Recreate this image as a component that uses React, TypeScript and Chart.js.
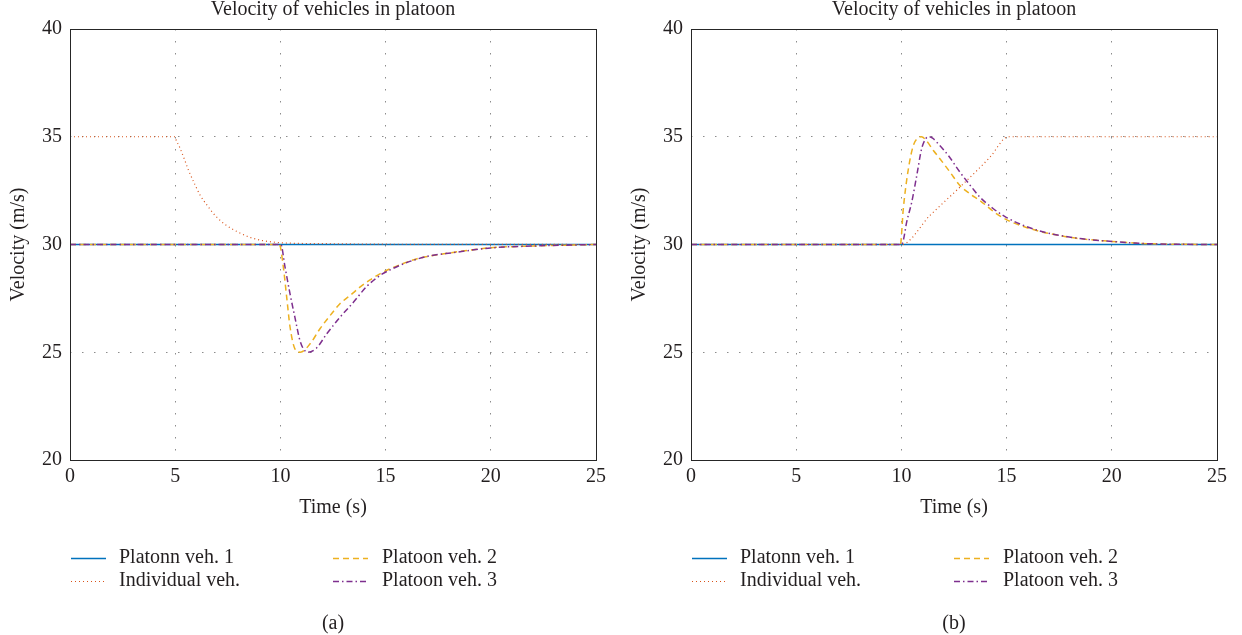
import React, { useEffect, useRef } from "react";
import { Chart, registerables } from "chart.js";

Chart.register(...registerables);

const FONT = "'Liberation Serif', 'Times New Roman', serif";
const FS = 20;
const TITLE = "Velocity of vehicles in platoon";
const X_TITLE = "Time (s)";
const Y_TITLE = "Velocity (m/s)";
const SERIES_NAMES = ["Platonn veh. 1", "Individual veh.", "Platoon veh. 2", "Platoon veh. 3"];
const X_MIN = 0, X_MAX = 25, X_STEP = 5;
const Y_MIN = 20, Y_MAX = 40, Y_STEP = 5;

// ---- Panel (a) ----
const tA_veh1 = [0, 25];
const vA_veh1 = [30, 30];

const tA_ind = [0, 5, 5.04, 5.18, 5.42, 5.64, 5.89, 6.18, 6.53, 6.94, 7.41, 7.94, 8.56, 9.16, 9.79, 10.5, 12, 14, 16, 25];
const vA_ind = [35, 35, 34.86, 34.58, 34.0, 33.43, 32.88, 32.3, 31.8, 31.3, 30.9, 30.6, 30.33, 30.18, 30.1, 30.06, 30.04, 30.02, 30.01, 30];

const tA_veh2 = [0, 9.95, 10.14, 10.3, 10.46, 10.69, 10.95, 11.41, 11.88, 12.36, 12.83, 13.31, 13.78, 14.26, 14.73, 15.21, 16.0, 16.5, 18.2, 20.0, 22.0, 25];
const vA_veh2 = [30, 30, 28.95, 27.55, 26.16, 25.16, 25.0, 25.39, 26.09, 26.7, 27.25, 27.63, 28.02, 28.36, 28.64, 28.87, 29.18, 29.34, 29.63, 29.85, 29.93, 30];

const tA_veh3 = [0, 10.02, 10.22, 10.46, 10.69, 10.93, 11.1, 11.3, 11.72, 12.2, 12.83, 13.47, 14.1, 14.73, 15.21, 16.0, 17.0, 18.2, 20.0, 22.0, 25];
const vA_veh3 = [30, 30, 28.95, 27.7, 26.62, 25.54, 25.15, 25.0, 25.2, 25.85, 26.62, 27.32, 28.05, 28.56, 28.82, 29.16, 29.45, 29.62, 29.84, 29.93, 30];

// ---- Panel (b) ----
const tB_veh1 = [0, 25];
const vB_veh1 = [30, 30];

const tB_ind = [0, 10, 11.36, 12.78, 14.21, 15.08, 25];
const vB_ind = [30, 30, 31.35, 32.66, 34.05, 35, 35];

const tB_veh2 = [0, 9.95, 10.09, 10.33, 10.57, 10.8, 10.95, 11.2, 11.52, 11.83, 12.31, 12.78, 13.26, 13.73, 14.53, 15.08, 16.43, 18.17, 19.9, 21.96, 25];
const vB_veh2 = [30, 30, 31.66, 33.5, 34.6, 34.95, 35.0, 34.8, 34.36, 33.98, 33.36, 32.74, 32.35, 32.04, 31.42, 31.11, 30.65, 30.31, 30.15, 30.03, 30];

const tB_veh3 = [0, 10.0, 10.09, 10.25, 10.49, 10.73, 10.96, 11.15, 11.3, 11.5, 11.68, 12.23, 12.78, 13.34, 13.73, 14.37, 15.0, 16.43, 18.17, 19.9, 21.96, 25];
const vB_veh3 = [30, 30, 30.19, 31.04, 31.96, 33.2, 34.44, 34.9, 35.0, 34.92, 34.75, 34.13, 33.36, 32.66, 32.2, 31.66, 31.25, 30.67, 30.32, 30.15, 30.03, 30];

const COLORS = ["#0072BD", "#D95319", "#EDB120", "#7E2F8E"];
const DASHES: number[][] = [[], [1, 3], [6, 4], [6, 3, 1.5, 3]];
const WIDTHS = [1.5, 1.2, 1.5, 1.5];
const ORDERS = [3, 2, 1, 0];

const toPts = (t: number[], v: number[]) => t.map((x, i) => ({ x, y: v[i] }));

const decorPlugin = {
  id: "decor",
  afterDraw(chart: any, _args: any, opts: any) {
    const { ctx, chartArea: a } = chart;
    ctx.save();
    // box
    ctx.setLineDash([]);
    ctx.strokeStyle = "#262626";
    ctx.lineWidth = 1;
    ctx.strokeRect(Math.round(a.left) + 0.5, Math.round(a.top) + 0.5, Math.round(a.right - a.left), Math.round(a.bottom - a.top));
    // title
    ctx.fillStyle = "#231f20";
    ctx.font = `${FS}px ${FONT}`;
    ctx.textAlign = "center";
    ctx.textBaseline = "middle";
    ctx.fillText(opts.title, (a.left + a.right) / 2, a.top - 19);
    // legend (two columns)
    const ds = chart.data.datasets;
    const cols = [
      { s: a.left + 1, e: a.left + 36, tx: a.left + 49 },
      { s: a.left + 263, e: a.left + 298, tx: a.left + 312 },
    ];
    const rows = [a.bottom + 98, a.bottom + 121];
    ds.forEach((d: any, i: number) => {
      const c = cols[Math.floor(i / 2)];
      const y = Math.round(rows[i % 2]) + 0.5;
      ctx.save();
      ctx.strokeStyle = d.borderColor;
      ctx.lineWidth = d.borderWidth;
      ctx.setLineDash(d.borderDash || []);
      ctx.beginPath();
      ctx.moveTo(c.s, y);
      ctx.lineTo(c.e, y);
      ctx.stroke();
      ctx.restore();
      ctx.fillStyle = "#231f20";
      ctx.font = `${FS}px ${FONT}`;
      ctx.textAlign = "left";
      ctx.textBaseline = "middle";
      ctx.fillText(d.label, c.tx, rows[i % 2]);
    });
    // caption
    ctx.textAlign = "center";
    ctx.fillText(opts.caption, (a.left + a.right) / 2, a.bottom + 164);
    ctx.restore();
  },
};

type PanelProps = { series: { t: number[]; v: number[] }[]; caption: string };

function Panel({ series, caption }: PanelProps) {
  const ref = useRef<HTMLCanvasElement | null>(null);
  useEffect(() => {
    if (!ref.current) return;
    const chart = new Chart(ref.current, {
      type: "line",
      data: {
        datasets: series.map((s, i) => ({
          label: SERIES_NAMES[i],
          data: toPts(s.t, s.v),
          borderColor: COLORS[i],
          backgroundColor: COLORS[i],
          borderWidth: WIDTHS[i],
          borderDash: DASHES[i],
          pointRadius: 0,
          fill: false,
          cubicInterpolationMode: "monotone" as const,
          order: ORDERS[i],
        })),
      },
      options: {
        animation: false,
        responsive: false,
        maintainAspectRatio: false,
        layout: { padding: { top: 29, right: 25, bottom: 110, left: 0 } },
        plugins: {
          legend: { display: false },
          tooltip: { enabled: false },
          title: { display: false },
          decor: { title: TITLE, caption },
        } as any,
        scales: {
          x: {
            type: "linear",
            min: X_MIN,
            max: X_MAX,
            afterFit: (s: any) => { s.height = 65; },
            ticks: { stepSize: X_STEP, padding: 5, color: "#231f20", font: { family: FONT, size: FS }, maxRotation: 0 },
            grid: { color: "#8c8c8c", lineWidth: 1, drawTicks: false },
            border: { display: false, dash: [1.5, 10.5] },
            title: { display: true, text: X_TITLE, color: "#231f20", font: { family: FONT, size: FS }, padding: { top: 0, bottom: 5 } },
          },
          y: {
            type: "linear",
            min: Y_MIN,
            max: Y_MAX,
            afterFit: (s: any) => { s.width = 70; },
            ticks: { stepSize: Y_STEP, padding: 8, color: "#231f20", font: { family: FONT, size: FS } },
            grid: { color: "#8c8c8c", lineWidth: 1, drawTicks: false },
            border: { display: false, dash: [1.5, 10.5] },
            title: { display: true, text: Y_TITLE, color: "#231f20", font: { family: FONT, size: FS }, padding: { top: 7, bottom: 0 } },
          },
        },
      },
      plugins: [decorPlugin],
    });
    return () => chart.destroy();
  }, []);
  return <canvas ref={ref} width={621} height={635} style={{ display: "block", width: 621, height: 635 }} />;
}

export default function App() {
  const seriesA = [
    { t: tA_veh1, v: vA_veh1 },
    { t: tA_ind, v: vA_ind },
    { t: tA_veh2, v: vA_veh2 },
    { t: tA_veh3, v: vA_veh3 },
  ];
  const seriesB = [
    { t: tB_veh1, v: vB_veh1 },
    { t: tB_ind, v: vB_ind },
    { t: tB_veh2, v: vB_veh2 },
    { t: tB_veh3, v: vB_veh3 },
  ];
  return (
    <div style={{ position: "fixed", top: 0, left: 0, width: 1242, height: 635, display: "flex", background: "#fff" }}>
      <Panel series={seriesA} caption="(a)" />
      <Panel series={seriesB} caption="(b)" />
    </div>
  );
}
